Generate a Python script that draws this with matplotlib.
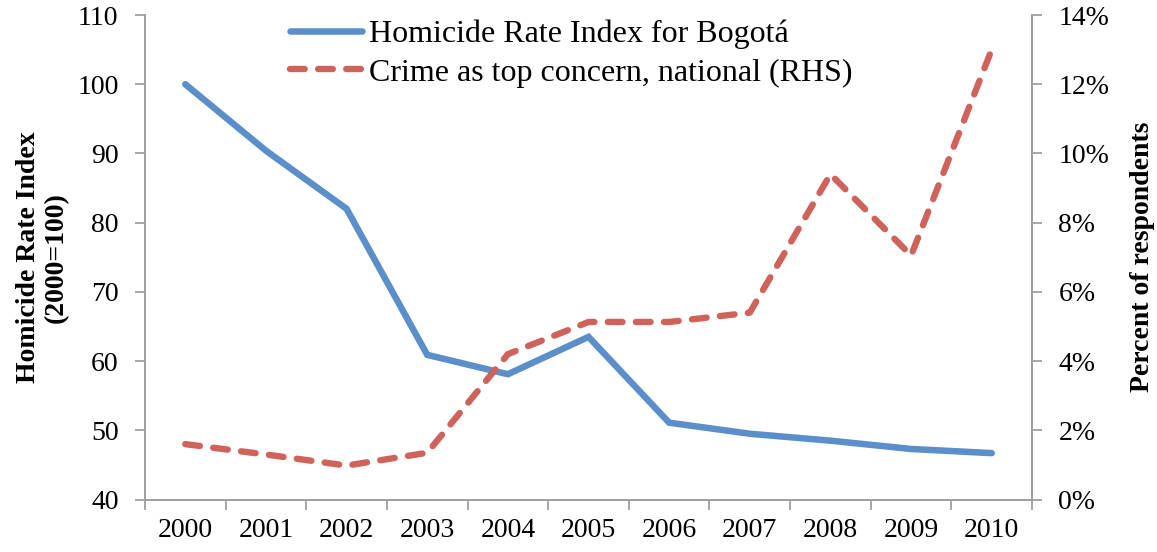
import matplotlib
matplotlib.use("Agg")
import matplotlib.pyplot as plt
from matplotlib.ticker import FuncFormatter, FixedLocator

years = ["2000", "2001", "2002", "2003", "2004", "2005", "2006", "2007", "2008", "2009", "2010"]
homicide_index = [100, 90.4, 82, 60.9, 58.1, 63.5, 51.1, 49.5, 48.5, 47.3, 46.7]
crime_concern = [1.6, 1.3, 0.98, 1.35, 4.2, 5.13, 5.13, 5.4, 9.4, 7.05, 13.0]

blue = "#5B8FC9"
red = "#D0625C"
gray = "#A0A0A0"

plt.rcParams["font.family"] = ["Liberation Serif", "DejaVu Serif"]

fig = plt.figure(figsize=(11.57, 5.52), dpi=100)
ax = fig.add_axes([0.1253, 0.0951, 0.892 - 0.1253, 0.9728 - 0.0951])
ax2 = ax.twinx()

x = list(range(len(years)))
l1, = ax.plot(x, homicide_index, color=blue, lw=4.7, solid_capstyle="round",
              solid_joinstyle="miter", label="Homicide Rate Index for Bogotá")
l2, = ax2.plot(x, crime_concern, color=red, lw=4.6, linestyle=(0, (2.3, 2.1)),
               dash_capstyle="round", label="Crime as top concern, national (RHS)")

ax.set_xlim(-0.5, len(years) - 0.5)
ax.set_ylim(40, 110)
ax2.set_ylim(0, 14)
ax.set_yticks(range(40, 111, 10))
ax2.set_yticks(range(0, 15, 2))
ax2.yaxis.set_major_formatter(FuncFormatter(lambda v, p: f"{int(v)}%"))

ax.xaxis.set_major_locator(FixedLocator([i - 0.5 for i in range(len(years) + 1)]))
ax.xaxis.set_minor_locator(FixedLocator(x))
ax.set_xticklabels([])
ax.set_xticklabels(years, minor=True)

for a in (ax, ax2):
    for s in a.spines.values():
        s.set_color(gray)
        s.set_linewidth(1.3)
    a.spines["top"].set_visible(False)

ax.tick_params(axis="x", which="major", length=7, width=1.3, color=gray, direction="out")
ax.tick_params(axis="x", which="minor", length=0, labelsize=20, pad=13)
ax.tick_params(axis="y", length=7, width=1.3, color=gray, direction="out", labelsize=20, pad=12)
ax2.tick_params(axis="y", length=7, width=1.3, color=gray, direction="out", labelsize=20, pad=12)

ax.set_ylabel("Homicide Rate Index\n(2000=100)", fontsize=20, fontweight="bold", labelpad=6,
              linespacing=1.15)
ax2.set_ylabel("Percent of respondents", fontsize=20, fontweight="bold", labelpad=15)

leg = ax.legend(handles=[l1, l2], loc="upper left", bbox_to_anchor=(0.164, 0.99),
                frameon=False, fontsize=23, handlelength=2.25, handletextpad=0.2,
                labelspacing=0.28, borderaxespad=0, borderpad=0)

fig.savefig("out.png", dpi=100)
